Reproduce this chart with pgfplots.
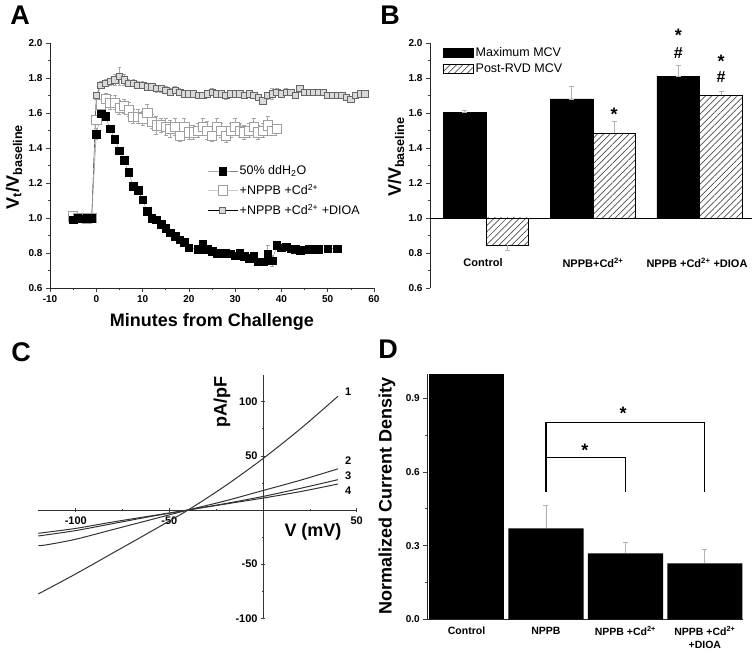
\documentclass[border=0pt]{standalone}
\usepackage{fontspec}
\setmainfont{Liberation Sans}
\usepackage{pgfplots}
\usepackage{pgfplotstable}
\pgfplotsset{compat=1.18}
\usetikzlibrary{patterns.meta}
\newcommand\fs[2]{\fontsize{#1}{#2}\selectfont}

\pgfplotstableread{
x y e
-5 0.99 0.005
-4 1.00 0.005
-3 0.995 0.005
-2 1.00 0.005
-1 1.00 0.005
0 1.48 0.03
1 1.595 0.01
2 1.58 0.01
3 1.51 0.01
4 1.45 0.01
5 1.385 0.01
6 1.33 0.01
7 1.26 0.01
8 1.18 0.01
9 1.16 0.01
10 1.105 0.01
11 1.04 0.01
12 1.00 0.01
13 0.99 0.01
14 0.965 0.01
15 0.94 0.01
16 0.915 0.01
17 0.895 0.01
18 0.875 0.01
19 0.86 0.01
20 0.83 0.015
22 0.82 0.02
23 0.85 0.015
24 0.82 0.01
25 0.81 0.01
26 0.795 0.01
27 0.80 0.01
28 0.80 0.01
29 0.795 0.01
30 0.785 0.01
31 0.80 0.01
32 0.78 0.01
33 0.77 0.01
34 0.785 0.01
35 0.75 0.01
36 0.75 0.01
37 0.795 0.05
38 0.755 0.03
39 0.845 0.01
40 0.83 0.02
41 0.835 0.015
42 0.825 0.02
43 0.82 0.02
44 0.815 0.02
46 0.82 0.005
48 0.82 0.005
50 0.825 0.005
52 0.825 0.005
}\tWater

\pgfplotstableread{
x y e
-5 1.01 0.01
-4 1.00 0.01
-3 1.00 0.005
-2 0.995 0.005
-1 1.00 0.005
0 1.56 0.02
1 1.65 0.03
2 1.68 0.03
3 1.66 0.04
4 1.66 0.04
5 1.63 0.04
6 1.64 0.04
7 1.62 0.04
8 1.58 0.04
9 1.58 0.04
10 1.57 0.04
11 1.60 0.05
12 1.55 0.04
13 1.53 0.05
14 1.53 0.04
15 1.52 0.05
16 1.51 0.05
17 1.52 0.05
18 1.47 0.03
19 1.52 0.05
20 1.49 0.04
21 1.49 0.04
22 1.50 0.04
23 1.52 0.05
24 1.50 0.05
25 1.47 0.03
26 1.52 0.05
27 1.50 0.04
28 1.47 0.04
29 1.50 0.04
30 1.52 0.05
31 1.50 0.04
32 1.49 0.04
33 1.50 0.04
34 1.52 0.05
35 1.49 0.04
36 1.50 0.04
37 1.53 0.05
38 1.50 0.02
39 1.51 0.01
}\tCd

\pgfplotstableread{
x y e
-5 1.00 0.005
-4 1.00 0.005
-3 1.00 0.005
-2 1.00 0.005
-1 1.00 0.005
0 1.70 0.02
1 1.76 0.02
2 1.77 0.02
3 1.78 0.02
4 1.79 0.03
5 1.81 0.05
6 1.79 0.03
7 1.77 0.02
8 1.77 0.02
9 1.76 0.02
10 1.76 0.02
11 1.75 0.02
12 1.75 0.02
13 1.74 0.02
14 1.74 0.02
15 1.73 0.02
16 1.72 0.02
17 1.73 0.02
18 1.72 0.02
19 1.71 0.02
20 1.71 0.02
21 1.71 0.01
22 1.70 0.01
23 1.70 0.01
24 1.71 0.01
25 1.72 0.02
26 1.71 0.01
27 1.71 0.01
28 1.70 0.02
29 1.71 0.01
30 1.71 0.01
31 1.71 0.01
32 1.70 0.01
33 1.71 0.01
34 1.70 0.01
35 1.69 0.01
36 1.67 0.01
37 1.70 0.02
38 1.71 0.03
39 1.72 0.02
40 1.71 0.01
41 1.72 0.02
42 1.72 0.01
43 1.70 0.01
44 1.74 0.02
45 1.72 0.01
46 1.72 0.01
47 1.72 0.01
48 1.72 0.01
49 1.72 0.01
50 1.70 0.01
51 1.70 0.01
52 1.70 0.01
53 1.70 0.01
54 1.69 0.01
55 1.68 0.01
56 1.70 0.01
57 1.71 0.01
58 1.71 0.01
}\tDioa

\pgfplotstableread{
x y ep em
-0.2 1.605 0.008 0
0.8 1.68 0.07 0
1.8 1.81 0.06 0
}\tBmax
\pgfplotstableread{
x y ep em
1.2 1.485 0.065 0
2.2 1.70 0.025 0
}\tBpost
\pgfplotstableread{
x y ep em
0.2 0.845 0 0.03
}\tBpostC

\pgfplotstableread{
x y
-120 -77.5
-100 -59
-80 -39.5
-60 -20
-40 0
-20 22.5
0 47.5
20 75
40 105
}\tIone
\pgfplotstableread{
x y
-120 -33
-115 -32
-100 -27
-80 -18
-60 -9
-40 0
-20 8.5
0 18
20 27.5
40 38
}\tItwo
\pgfplotstableread{
x y
-120 -24
-100 -19
-80 -12.5
-60 -6
-40 0
-20 6
0 12.5
20 20
40 28
}\tIthree
\pgfplotstableread{
x y
-120 -21.5
-100 -17
-80 -11
-60 -5.5
-40 0
-20 5.5
0 11
20 17
40 24
}\tIfour

\pgfplotstableread{
x y e
1 0.37 0.095
2 0.268 0.047
3 0.228 0.057
}\tD

\pgfplotsset{
  every axis/.append style={
    scale only axis,
    tick align=outside,
    major tick length=4bp,
    minor tick length=2.5bp,
    tick style={black!75, line width=0.6bp},
    axis line style={black!85, line width=0.8bp},
    ticklabel style={font=\bfseries\fs{10bp}{12bp}},
  },
  boxlegend/.style={legend image code/.code={\draw[##1,/tikz/.cd] (0bp,-4.5bp) rectangle (30bp,4.5bp);}},
  linelegend/.style={legend image code/.code={\draw[mark repeat=2,mark phase=2,##1] plot coordinates {(0bp,0bp) (15bp,0bp) (30bp,0bp)};}},
}

\begin{document}
\begin{tikzpicture}
\useasboundingbox (0bp,0bp) rectangle (755bp,655bp);

% ---------------- Panel A ----------------
\begin{axis}[
  at={(50bp,367bp)}, anchor=south west,
  width=324bp, height=245bp,
  xmin=-10, xmax=60, ymin=0.6, ymax=2.0,
  axis lines*=left,
  xtick={-10,0,10,20,30,40,50,60},
  xticklabels={-10,0,10,20,30,40,50,60},
  minor x tick num=1,
  ytick={0.6,0.8,1.0,1.2,1.4,1.6,1.8,2.0},
  yticklabels={0.6,0.8,1.0,1.2,1.4,1.6,1.8,2.0},
  minor y tick num=1,
  reverse legend,
  legend cell align=left,
  legend style={at={(0.485,0.508)}, anchor=north west, draw=none, fill=none,
    font=\fs{12.5bp}{14bp}, row sep=4bp, inner sep=0pt},
  linelegend,
]
\addplot[black, line width=0.4bp, mark=square*, mark size=3.2bp,
  mark options={fill=gray!30, draw=gray!80!black, line width=0.5bp},
  error bars/.cd, y dir=both, y explicit,
  error bar style={gray!70, line width=0.5bp},
  error mark options={rotate=90, mark size=1.8bp, gray!70, line width=0.5bp}]
  table[x=x,y=y,y error=e]{\tDioa};
\addlegendentry{+NPPB +Cd\textsuperscript{2+} +DIOA}
\addplot[gray!40, line width=0.4bp, mark=square*, mark size=4.6bp,
  mark options={fill=white, draw=gray!75, line width=0.6bp},
  error bars/.cd, y dir=both, y explicit,
  error bar style={gray!70, line width=0.5bp},
  error mark options={rotate=90, mark size=2bp, gray!70, line width=0.5bp}]
  table[x=x,y=y,y error=e]{\tCd};
\addlegendentry{+NPPB +Cd\textsuperscript{2+}}
\addplot[gray, line width=0.4bp, mark=square*, mark size=3.8bp,
  mark options={fill=black, draw=black},
  error bars/.cd, y dir=both, y explicit,
  error bar style={gray!70, line width=0.5bp},
  error mark options={rotate=90, mark size=2bp, gray!70, line width=0.5bp}]
  table[x=x,y=y,y error=e]{\tWater};
\addlegendentry{50\% ddH\textsubscript{2}O}
\end{axis}

% ---------------- Panel B ----------------
\begin{axis}[
  at={(430bp,367bp)}, anchor=south west,
  width=322bp, height=245bp,
  xmin=-0.525, xmax=2.49, ymin=-0.4, ymax=1.0,
  axis y line*=left, axis x line=none,
  ytick={-0.4,-0.2,0,0.2,0.4,0.6,0.8,1.0},
  yticklabels={0.6,0.8,1.0,1.2,1.4,1.6,1.8,2.0},
  minor y tick num=1,
  clip=false,
  legend cell align=left,
  legend style={at={(0.04,0.99)}, anchor=north west, draw=none, fill=none,
    font=\fs{12.5bp}{14bp}, row sep=2bp, inner sep=0pt},
]
\addplot[ybar, bar width=0.4, bar shift=0pt, fill=black, draw=black, boxlegend,
  error bars/.cd, y dir=both, y explicit,
  error bar style={gray!60, line width=0.7bp},
  error mark options={rotate=90, mark size=2.5bp, gray!60, line width=0.7bp}]
  table[x=x, y expr=\thisrow{y}-1, y error plus=ep, y error minus=em]{\tBmax};
\addlegendentry{Maximum MCV}
\addplot[ybar, bar width=0.4, bar shift=0pt, draw=black, line width=0.6bp, boxlegend,
  pattern={Lines[angle=45,distance=4.5bp,line width=0.7bp]}, pattern color=black!70,
  error bars/.cd, y dir=plus, y explicit,
  error bar style={gray!60, line width=0.7bp},
  error mark options={rotate=90, mark size=2.5bp, gray!60, line width=0.7bp}]
  table[x=x, y expr=\thisrow{y}-1, y error plus=ep, y error minus=em]{\tBpost};
\addlegendentry{Post-RVD MCV}
\addplot[ybar, bar width=0.4, bar shift=0pt, draw=black, line width=0.6bp, forget plot,
  pattern={Lines[angle=45,distance=4.5bp,line width=0.7bp]}, pattern color=black!70,
  error bars/.cd, y dir=minus, y explicit,
  error bar style={gray!60, line width=0.7bp},
  error mark options={rotate=90, mark size=2.5bp, gray!60, line width=0.7bp}]
  table[x=x, y expr=\thisrow{y}-1, y error plus=ep, y error minus=em]{\tBpostC};
\addplot[black, line width=0.8bp, forget plot] coordinates {(-0.525,0) (2.49,0)};
\node[inner sep=0pt, font=\bfseries\fs{18bp}{18bp}] at (axis cs:1.2,0.59) {*};
\node[inner sep=0pt, font=\bfseries\fs{18bp}{18bp}] at (axis cs:1.8,1.045) {*};
\node[inner sep=0pt, font=\bfseries\fs{16bp}{16bp}] at (axis cs:1.8,0.94) {\#};
\node[inner sep=0pt, font=\bfseries\fs{18bp}{18bp}] at (axis cs:2.2,0.895) {*};
\node[inner sep=0pt, font=\bfseries\fs{16bp}{16bp}] at (axis cs:2.2,0.806) {\#};
\end{axis}

% ---------------- Panel C ----------------
\begin{axis}[
  at={(38.3bp,36.7bp)}, anchor=south west,
  width=318.4bp, height=243.7bp,
  xmin=-120, xmax=50, ymin=-100, ymax=125,
  axis lines=middle,
  axis line style={-, black!80, line width=0.8bp},
  xtick={-100,-50,0,50}, xticklabels={-100,-50,,50},
  minor x tick num=1,
  ytick={-100,-50,0,50,100}, yticklabels={-100,-50,,50,100},
  minor y tick num=1,
  ticklabel style={font=\bfseries\fs{11bp}{13bp}},
  xticklabel style={yshift=-1bp},
  clip=false,
]
\addplot[black!80, line width=1bp, smooth] table[x=x,y=y]{\tIone};
\addplot[black!80, line width=1bp, smooth] table[x=x,y=y]{\tItwo};
\addplot[black!80, line width=1bp, smooth] table[x=x,y=y]{\tIthree};
\addplot[black!80, line width=1bp, smooth] table[x=x,y=y]{\tIfour};
\node[font=\bfseries\fs{11bp}{13bp}] at (axis cs:45.5,109) {1};
\node[font=\bfseries\fs{11bp}{13bp}] at (axis cs:45.5,45.5) {2};
\node[font=\bfseries\fs{11bp}{13bp}] at (axis cs:45.5,31.5) {3};
\node[font=\bfseries\fs{11bp}{13bp}] at (axis cs:45.5,17.5) {4};
\end{axis}

% ---------------- Panel D ----------------
\begin{axis}[
  at={(427.3bp,35.7bp)}, anchor=south west,
  width=315.7bp, height=245.6bp,
  xmin=-0.494, xmax=3.48, ymin=0, ymax=1.0,
  axis lines*=left,
  xtick={0,1,2,3},
  xticklabels={Control,NPPB,{NPPB +Cd\textsuperscript{2+}},{NPPB +Cd\textsuperscript{2+}\\+DIOA}},
  xticklabel style={align=center, font=\bfseries\fs{10.5bp}{13bp}},
  x tick style={draw=none},
  ytick={0,0.3,0.6,0.9}, yticklabels={0.0,0.3,0.6,0.9},
  minor y tick num=1,
  clip=false,
]
\addplot[ybar, bar width=0.947, bar shift=0pt, fill=black, draw=none]
  coordinates {(0,1.0)};
\addplot[ybar, bar width=0.947, bar shift=0pt, fill=black, draw=none,
  error bars/.cd, y dir=plus, y explicit,
  error bar style={gray!60, line width=0.8bp},
  error mark options={rotate=90, mark size=2.5bp, gray!60, line width=0.8bp}]
  table[x=x,y=y,y error=e]{\tD};
\addplot[black, line width=1.2bp] coordinates {(1,0.52) (1,0.80) (3,0.80) (3,0.52)};
\addplot[black, line width=1.2bp] coordinates {(1,0.52) (1,0.66) (2,0.66) (2,0.52)};
\node[font=\bfseries\fs{18bp}{18bp}] at (axis cs:1.97,0.84) {*};
\node[font=\bfseries\fs{18bp}{18bp}] at (axis cs:1.49,0.69) {*};
\end{axis}

% ---------------- texts ----------------
\node[font=\bfseries\fs{27bp}{27bp}] at (20bp,640bp) {A};
\node[font=\bfseries\fs{27bp}{27bp}] at (390bp,640bp) {B};
\node[font=\bfseries\fs{27bp}{27bp}] at (21bp,303bp) {C};
\node[font=\bfseries\fs{27bp}{27bp}] at (388bp,306bp) {D};

\node[rotate=90, font=\bfseries\fs{18bp}{20bp}] at (14bp,488bp) {V\textsubscript{t}/V\textsubscript{baseline}};
\node[font=\bfseries\fs{18bp}{20bp}] at (212bp,333bp) {Minutes from Challenge};

\node[rotate=90, font=\bfseries\fs{18bp}{20bp}] at (396bp,498bp) {V/V\textsubscript{baseline}};
\node[font=\bfseries\fs{11bp}{13bp}] at (483bp,392bp) {Control};
\node[font=\bfseries\fs{11bp}{13bp}] at (593bp,392bp) {NPPB+Cd\textsuperscript{2+}};
\node[font=\bfseries\fs{11bp}{13bp}] at (697bp,392bp) {NPPB +Cd\textsuperscript{2+} +DIOA};

\node[rotate=90, font=\bfseries\fs{18bp}{20bp}] at (222bp,253bp) {pA/pF};
\node[font=\bfseries\fs{18bp}{20bp}] at (313bp,123bp) {V (mV)};

\node[rotate=90, font=\bfseries\fs{18bp}{20bp}] at (387bp,159bp) {Normalized Current Density};
\end{tikzpicture}
\end{document}
